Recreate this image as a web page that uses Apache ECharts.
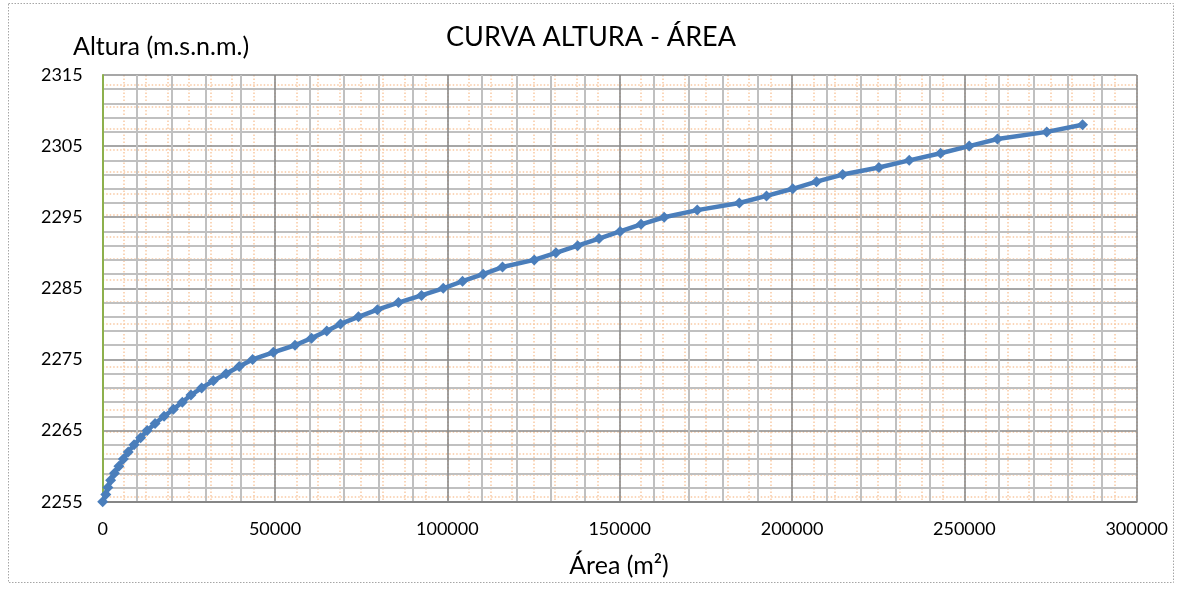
<!DOCTYPE html>
<html>
<head>
<meta charset="utf-8">
<script src="https://cdn.jsdelivr.net/npm/echarts@6/dist/echarts.min.js"></script>
<style>
  html, body { margin: 0; padding: 0; background: #ffffff; }
  #chart { width: 1182px; height: 590px; }
</style>
</head>
<body>
<div id="chart"></div>
<script>
// Elevation-area curve of the reservoir
const alturas = [
  2255, 2256, 2257, 2258, 2259, 2260, 2261, 2262, 2263, 2264,
  2265, 2266, 2267, 2268, 2269, 2270, 2271, 2272, 2273, 2274,
  2275, 2276, 2277, 2278, 2279, 2280, 2281, 2282, 2283, 2284,
  2285, 2286, 2287, 2288, 2289, 2290, 2291, 2292, 2293, 2294,
  2295, 2296, 2297, 2298, 2299, 2300, 2301, 2302, 2303, 2304,
  2305, 2306, 2307, 2308
];
const areas = [
  0, 900, 1500, 2300, 3400, 4700, 6000, 7400, 9100, 11000,
  12900, 15200, 17800, 20500, 23100, 25600, 28700, 32100, 35800, 39600,
  43500, 49500, 55800, 60600, 65000, 69000, 74200, 79700, 85800, 92500,
  98800, 104400, 110400, 116000, 125200, 131500, 137800, 144000, 150100, 156200,
  162900, 172500, 184700, 192600, 200200, 207100, 214700, 225200, 234000, 243100,
  251400, 259600, 273900, 284300
];

const titulo = 'CURVA ALTURA - ÁREA';
const nombreEjeY = 'Altura (m.s.n.m.)';
const nombreEjeX = 'Área (m²)';

const FONT = 'Lato, "Open Sans", sans-serif';
const puntos = areas.map((a, i) => [a, alturas[i]]);
const plain = v => String(v);

const chart = echarts.init(document.getElementById('chart'), null, { renderer: 'canvas' });

const dotted = { color: '#f9c9a2', width: 1.5, type: [1.5, 2] };

chart.setOption({
  animation: false,
  backgroundColor: '#ffffff',
  grid: [
    // main plot area
    { left: 102.7, top: 75, right: 45.3, bottom: 88.3 },
    // background dotted pattern: vertical lines
    { left: 102.7, top: 75, right: 45.3, bottom: 88.3 },
    // background dotted pattern: horizontal lines
    { left: 102.7, top: 85, right: 45.3, bottom: 93.3 }
  ],
  xAxis: [
    {
      type: 'value', gridIndex: 0, min: 0, max: 300000, interval: 50000, z: 3,
      axisLine: { show: true, onZero: false, lineStyle: { color: '#868686', width: 2 } },
      axisTick: { show: false },
      axisLabel: { color: '#000', fontFamily: FONT, fontSize: 18, margin: 18, formatter: plain },
      splitLine: { show: true, lineStyle: { color: '#8a8a8a', width: 1.6 } },
      minorTick: { show: false, splitNumber: 5 },
      minorSplitLine: { show: true, lineStyle: { color: '#c0c0c0', width: 2 } }
    },
    {
      type: 'value', gridIndex: 1, min: 0, max: 48, interval: 1, z: 1,
      axisLine: { show: false }, axisTick: { show: false }, axisLabel: { show: false },
      splitLine: { show: true, lineStyle: dotted }
    },
    {
      type: 'value', gridIndex: 2, min: 0, max: 1, z: 1,
      axisLine: { show: false }, axisTick: { show: false }, axisLabel: { show: false },
      splitLine: { show: false }
    }
  ],
  yAxis: [
    {
      type: 'value', gridIndex: 0, min: 2255, max: 2315, interval: 10, z: 3,
      axisLine: { show: true, onZero: false, lineStyle: { color: '#8db04c', width: 2 } },
      axisTick: { show: false },
      axisLabel: { color: '#000', fontFamily: FONT, fontSize: 18, margin: 20, formatter: plain },
      splitLine: { show: true, lineStyle: { color: '#8a8a8a', width: 1.6 } },
      minorTick: { show: false, splitNumber: 5 },
      minorSplitLine: { show: true, lineStyle: { color: '#c0c0c0', width: 2 } }
    },
    {
      type: 'value', gridIndex: 1, min: 0, max: 1, z: 1,
      axisLine: { show: false }, axisTick: { show: false }, axisLabel: { show: false },
      splitLine: { show: false }
    },
    {
      type: 'value', gridIndex: 2, min: 0, max: 19, interval: 1, z: 1,
      axisLine: { show: false }, axisTick: { show: false }, axisLabel: { show: false },
      splitLine: { show: true, lineStyle: dotted }
    }
  ],
  title: {
    text: titulo,
    left: 'center',
    top: 19,
    textStyle: { fontFamily: FONT, fontSize: 27, fontWeight: 'normal', color: '#000' }
  },
  graphic: [
    {
      type: 'rect', z: -10, silent: true,
      shape: { x: 8.5, y: 3.5, width: 1165, height: 579 },
      style: { fill: 'none', stroke: '#a6a6a6', lineWidth: 1, lineDash: [1.5, 1.5] }
    },
    {
      type: 'text', silent: true, x: 73, y: 47,
      style: { text: nombreEjeY, fontFamily: FONT, fontSize: 25, fill: '#000', align: 'left', verticalAlign: 'middle' }
    },
    {
      type: 'text', silent: true, x: 619, y: 566,
      style: { text: nombreEjeX, fontFamily: FONT, fontSize: 25, fill: '#000', align: 'center', verticalAlign: 'middle' }
    }
  ],
  series: [
    {
      type: 'line',
      xAxisIndex: 0, yAxisIndex: 0,
      data: puntos,
      z: 5,
      symbol: 'diamond',
      symbolSize: 11,
      showAllSymbol: true,
      lineStyle: { color: '#4a7ebb', width: 4.5 },
      itemStyle: { color: '#4a7ebb' }
    }
  ]
});
</script>
</body>
</html>
